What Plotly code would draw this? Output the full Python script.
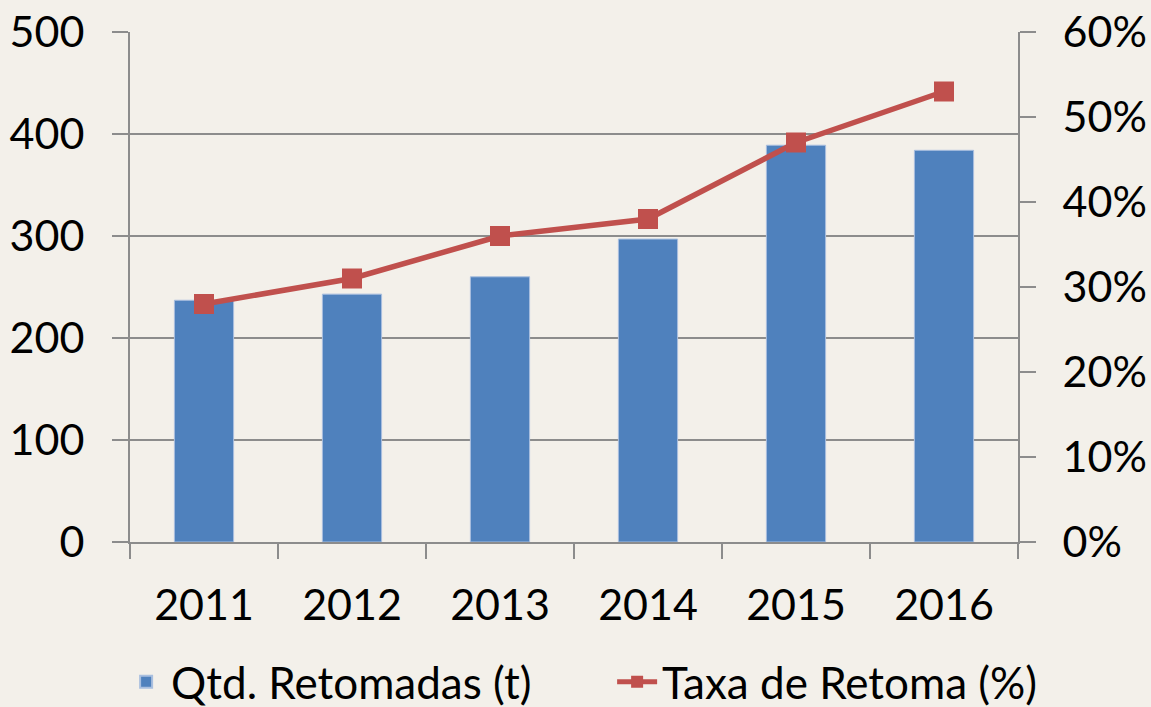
import plotly.graph_objects as go

years = ["2011", "2012", "2013", "2014", "2015", "2016"]
qtd_retomadas = [237, 243, 260, 297, 389, 384]
taxa_retoma = [0.28, 0.31, 0.36, 0.38, 0.47, 0.53]

FONT = "Lato"
BG = "#F3F0EA"
GRID = "#8C8C8C"

fig = go.Figure()
fig.add_trace(go.Bar(
    x=years, y=qtd_retomadas, name="Qtd. Retomadas (t)",
    marker=dict(color="#4F81BD", line=dict(color="#A9BFDF", width=1)),
    width=0.4, yaxis="y",
))
fig.add_trace(go.Scatter(
    x=years, y=taxa_retoma, name="Taxa de Retoma (%)", mode="lines+markers",
    line=dict(color="#C0504D", width=5.5),
    marker=dict(symbol="square", size=20, color="#C0504D"),
    yaxis="y2",
))

fig.update_layout(
    width=1151, height=707,
    paper_bgcolor=BG, plot_bgcolor=BG,
    margin=dict(l=130, r=133, t=32, b=165, autoexpand=False),
    font=dict(family=FONT, size=43, color="#000000"),
    bargap=0.6,
    showlegend=True,
    legend=dict(orientation="h", x=-0.01, xanchor="left", y=-0.205, yanchor="top",
                font=dict(size=44), bgcolor="rgba(0,0,0,0)", itemsizing="constant",
                traceorder="normal", entrywidth=436, entrywidthmode="pixels",
                itemwidth=40),
    xaxis=dict(
        type="category", showgrid=False, showline=True, linecolor=GRID, linewidth=2,
        ticks="outside", tickson="boundaries", ticklen=15, tickcolor=GRID, tickwidth=1.5,
        ticklabelstandoff=24, tickfont=dict(size=43), automargin=False,
    ),
    yaxis=dict(
        range=[0, 500], dtick=100, showgrid=True, gridcolor=GRID, gridwidth=2,
        showline=True, linecolor=GRID, linewidth=2, ticks="outside", ticklen=16,
        tickcolor=GRID, tickwidth=2, ticklabelstandoff=19, zeroline=False,
        tickfont=dict(size=43), automargin=False,
    ),
    yaxis2=dict(
        range=[0, 0.6], dtick=0.1, tickformat=".0%", overlaying="y", side="right",
        showgrid=False, showline=True, linecolor=GRID, linewidth=2, ticks="outside",
        ticklen=16, tickcolor=GRID, tickwidth=2, ticklabelstandoff=18, zeroline=False,
        tickfont=dict(size=43), automargin=False,
    ),
)

fig.write_html(
    "out.html",
    config={"displayModeBar": False},
    post_script="document.body.style.margin='0';document.body.style.background='#F3F0EA';",
)
